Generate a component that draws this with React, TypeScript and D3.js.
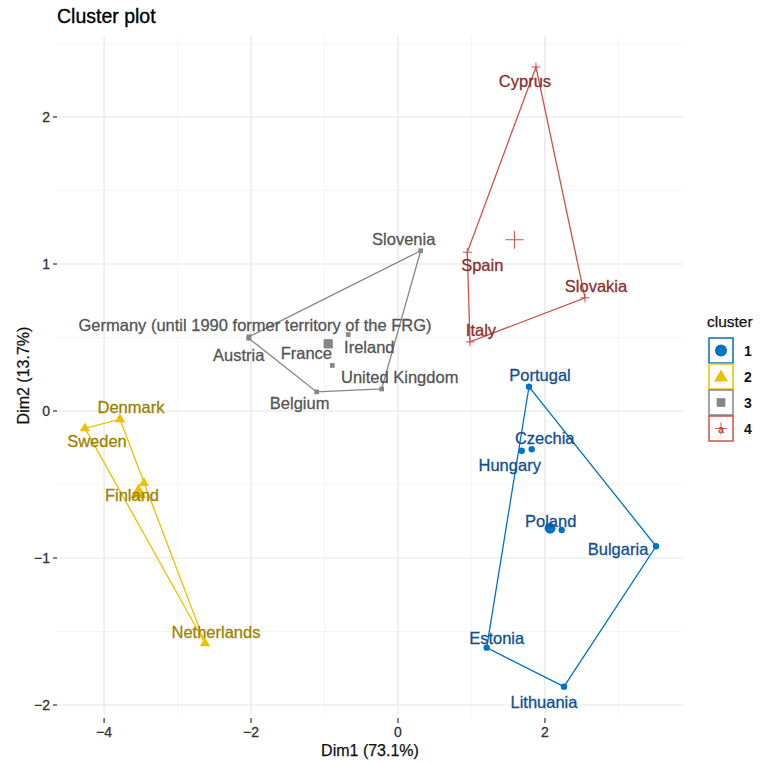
import React from 'react';
import * as d3 from 'd3';

// countries, their cluster and PCA coordinates
const countries = [
  'Cyprus', 'Spain', 'Slovakia', 'Italy',
  'Slovenia', 'Germany (until 1990 former territory of the FRG)', 'Austria', 'France', 'Ireland', 'United Kingdom', 'Belgium',
  'Denmark', 'Sweden', 'Finland', 'Netherlands',
  'Portugal', 'Czechia', 'Hungary', 'Poland', 'Bulgaria', 'Estonia', 'Lithuania',
];
const clusterOf = [4, 4, 4, 4, 3, 3, 3, 3, 3, 3, 3, 2, 2, 2, 2, 1, 1, 1, 1, 1, 1, 1];
const dim1 = [1.878, 0.943, 2.545, 0.98, 0.309, -2.028, -2.032, -0.894, -0.676, -0.222, -1.107, -3.784, -4.26, -3.457, -2.627, 1.783, 1.82, 1.684, 2.228, 3.512, 1.207, 2.259];
const dim2 = [2.34, 1.08, 0.77, 0.47, 1.09, 0.505, 0.495, 0.31, 0.52, 0.15, 0.13, -0.056, -0.118, -0.49, -1.58, 0.165, -0.26, -0.27, -0.81, -0.92, -1.61, -1.875];

// label offsets (px) from each point, like ggrepel placed them
const labelDx = [-11, 15, 11, 11, -17, 6, -10, -26, 21, 18, -17, 11, 12, -12, 11, 11, 13, -12, -11, -38, 10, -20];
const labelDy = [14, 13, -12, -12, -12, -12, 17, -12, 12, -12, 11, -12, 13, 12, -11, -12, -11, 14, -9, 3, -10, 15];

const clusters = ['1', '2', '3', '4'];
const palette = ['#0073C2', '#EFC000', '#868686', '#CD534C'];
const textColors = ['#10508f', '#9a8400', '#555555', '#8a3030'];

const xMajor = [-4, -2, 0, 2];
const xMinor = [-3, -1, 1, 3];
const yMajor = [-2, -1, 0, 1, 2];
const yMinor = [-1.5, -0.5, 0.5, 1.5, 2.5];

const font = '"Liberation Sans", Arial, sans-serif';

const plusPath = (s: number) => `M${-s},0H${s}M0,${-s}V${s}`;

function Marker({ k, big, cx, cy }: { k: number; big: boolean; cx: number; cy: number }) {
  const col = palette[k];
  if (k === 0) return <circle cx={cx} cy={cy} r={big ? 5.5 : 3.2} fill={col} />;
  if (k === 1)
    return <path transform={`translate(${cx},${cy})`} d={d3.symbol(d3.symbolTriangle, big ? 120 : 45)()!} fill={col} />;
  if (k === 2)
    return <path transform={`translate(${cx},${cy})`} d={d3.symbol(d3.symbolSquare, big ? 85 : 22)()!} fill={col} />;
  return <path transform={`translate(${cx},${cy})`} d={plusPath(big ? 9 : 4.5)} stroke={col} strokeWidth={1} fill="none" />;
}

export default function App() {
  const W = 761, H = 764;
  const left = 56.7, right = 683.3, top = 36, bottom = 715;
  const x = d3.scaleLinear().domain([-4.645, 3.883]).range([left, right]);
  const y = d3.scaleLinear().domain([-2.068, 2.551]).range([bottom, top]);

  const idx = d3.range(countries.length);
  const groups = clusters.map((_, k) => idx.filter(i => clusterOf[i] === k + 1));

  return (
    <svg width={W} height={H} style={{ position: 'absolute', left: 0, top: 0, background: '#fff' }} fontFamily={font}>
      {/* grid */}
      {xMinor.map(v => <line key={'xm' + v} x1={x(v)} x2={x(v)} y1={top} y2={bottom} stroke="#f2f2f2" strokeWidth={0.8} />)}
      {yMinor.map(v => <line key={'ym' + v} y1={y(v)} y2={y(v)} x1={left} x2={right} stroke="#f2f2f2" strokeWidth={0.8} />)}
      {xMajor.map(v => <line key={'xM' + v} x1={x(v)} x2={x(v)} y1={top} y2={bottom} stroke="#e6e6e6" strokeWidth={1.2} />)}
      {yMajor.map(v => <line key={'yM' + v} y1={y(v)} y2={y(v)} x1={left} x2={right} stroke="#e6e6e6" strokeWidth={1.2} />)}

      {/* hulls */}
      {groups.map((g, k) => {
        const hull = d3.polygonHull(g.map(i => [x(dim1[i]), y(dim2[i])] as [number, number]));
        return <path key={'h' + k} d={'M' + hull!.join('L') + 'Z'} fill="none" stroke={palette[k]} strokeWidth={1.3} />;
      })}

      {/* points */}
      {idx.map(i => <Marker key={'p' + i} k={clusterOf[i] - 1} big={false} cx={x(dim1[i])} cy={y(dim2[i])} />)}
      {/* cluster centres */}
      {groups.map((g, k) => (
        <Marker key={'c' + k} k={k} big={true} cx={x(d3.mean(g, i => dim1[i])!)} cy={y(d3.mean(g, i => dim2[i])!)} />
      ))}

      {/* labels */}
      {idx.map(i => (
        <text key={'l' + i} x={x(dim1[i]) + labelDx[i]} y={y(dim2[i]) + labelDy[i]} textAnchor="middle" dominantBaseline="central"
          fontSize={16.5} fill={textColors[clusterOf[i] - 1]} stroke={textColors[clusterOf[i] - 1]} strokeWidth={0.3}>{countries[i]}</text>
      ))}

      {/* axes */}
      {xMajor.map(v => (
        <g key={'xt' + v}>
          <line x1={x(v)} x2={x(v)} y1={718} y2={723} stroke="#333" strokeWidth={1.2} />
          <text x={x(v)} y={737} textAnchor="middle" fontSize={14} fill="#333" stroke="#333" strokeWidth={0.3}>{String(v).replace('-', '\u2212')}</text>
        </g>
      ))}
      {yMajor.map(v => (
        <g key={'yt' + v}>
          <line x1={53} x2={57} y1={y(v)} y2={y(v)} stroke="#333" strokeWidth={1.2} />
          <text x={50} y={y(v)} textAnchor="end" dominantBaseline="central" fontSize={14} fill="#333" stroke="#333" strokeWidth={0.3}>{String(v).replace('-', '\u2212')}</text>
        </g>
      ))}
      <text x={(left + right) / 2} y={756} textAnchor="middle" fontSize={16} fill="#111" stroke="#111" strokeWidth={0.25}>Dim1 (73.1%)</text>
      <text transform={`translate(23,${(top + bottom) / 2}) rotate(-90)`} textAnchor="middle" dominantBaseline="central" fontSize={16} fill="#111" stroke="#111" strokeWidth={0.25}>Dim2 (13.7%)</text>

      <text x={57} y={23} fontSize={19.5} fill="#000" stroke="#000" strokeWidth={0.35}>Cluster plot</text>

      {/* legend */}
      <text x={707} y={327} fontSize={15.5} fill="#111" stroke="#111" strokeWidth={0.25}>cluster</text>
      {clusters.map((c, k) => {
        const ky = 338 + k * 26;
        const cx = 721, cy = ky + 12.5;
        return (
          <g key={'lg' + c}>
            <rect x={709} y={ky} width={24} height={25} fill="#fff" stroke={palette[k]} strokeWidth={1.5} />
            {k === 3 && <text x={cx} y={cy + 0.5} textAnchor="middle" dominantBaseline="central" fontSize={11} fill={textColors[3]}>a</text>}
            {k === 0 && <circle cx={cx} cy={cy} r={6} fill={palette[0]} />}
            {k === 1 && <path transform={`translate(${cx},${cy + 1})`} d={d3.symbol(d3.symbolTriangle, 85)()!} fill={palette[1]} />}
            {k === 2 && <path transform={`translate(${cx},${cy})`} d={d3.symbol(d3.symbolSquare, 75)()!} fill={palette[2]} />}
            {k === 3 && <path transform={`translate(${cx},${cy})`} d={plusPath(6)} stroke={palette[3]} strokeWidth={1} fill="none" />}
            <text x={744} y={cy} dominantBaseline="central" fontSize={14} fontWeight="bold" fill="#111">{c}</text>
          </g>
        );
      })}
    </svg>
  );
}
